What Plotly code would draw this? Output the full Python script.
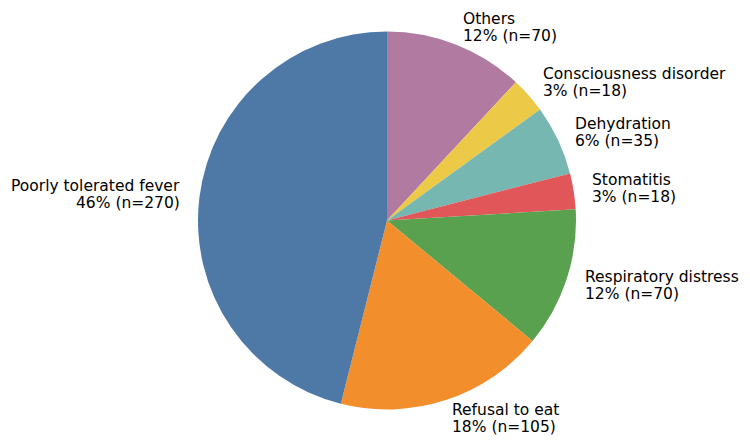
import math
import plotly.graph_objects as go

labels = ["Poorly tolerated fever", "Refusal to eat", "Respiratory distress",
          "Stomatitis", "Dehydration", "Consciousness disorder", "Others"]
counts = [270, 105, 70, 18, 35, 18, 70]
colors = ["#4e79a7", "#f28e2b", "#59a14f", "#e15759", "#76b7b2", "#edc948", "#b07aa1"]

W, H = 750, 447
cx, cy, r = 387.0, 220.5, 189.0
label_dist = 1.1
font_px = 15.5
line_gap = 17.0

# Slices run counterclockwise from 12 o'clock: draw them clockwise in reverse order.
fig = go.Figure(go.Pie(
    labels=labels[::-1], values=counts[::-1], sort=False, direction="clockwise",
    rotation=0, marker=dict(colors=colors[::-1], line=dict(width=0)),
    textinfo="none", hoverinfo="label+value+percent", showlegend=False,
    domain=dict(x=[(cx - r) / W, (cx + r) / W],
                y=[1 - (cy + r) / H, 1 - (cy - r) / H]),
))

total = sum(counts)
cum = 0.0
annotations = []
for lab, n in zip(labels, counts):
    frac = n / total
    mid = math.radians(90 + 360 * (cum + frac / 2))
    cum += frac
    x = cx + label_dist * r * math.cos(mid)
    y = cy - label_dist * r * math.sin(mid)
    left = math.cos(mid) > 0
    lines = [lab, f"{round(frac * 100)}% (n={n})"]
    for i, t in enumerate(lines):
        yy = y + (i - 0.5) * line_gap
        annotations.append(dict(
            x=x / W, y=1 - yy / H, xref="paper", yref="paper",
            text=t, showarrow=False, borderpad=0, borderwidth=0,
            xshift=0 if left else -1,
            xanchor="left" if left else "right", yanchor="middle",
            font=dict(family="DejaVu Sans", size=font_px, color="#000000"),
        ))

fig.update_layout(
    width=W, height=H, margin=dict(l=0, r=0, t=0, b=0),
    paper_bgcolor="white", plot_bgcolor="white",
    annotations=annotations,
)
fig.write_html("out.html")
